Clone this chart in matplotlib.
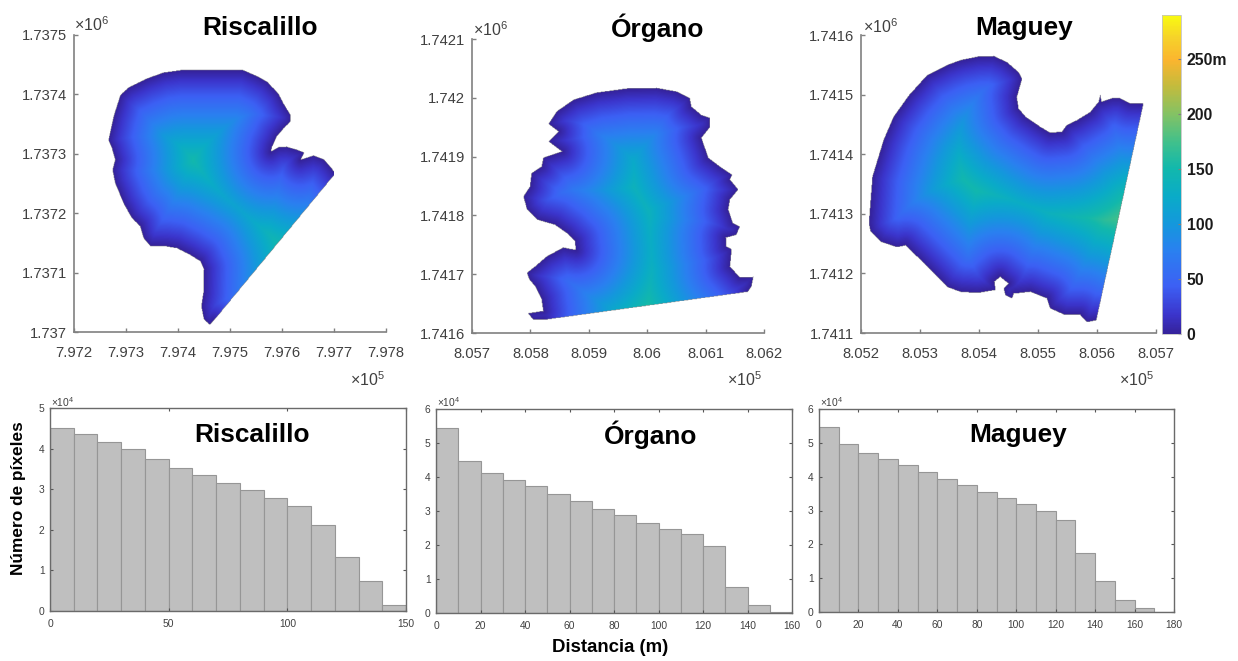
import numpy as np
from matplotlib import pyplot as plt
from matplotlib.colors import LinearSegmentedColormap
from matplotlib.path import Path

plt.rcParams['font.family'] = ['Liberation Sans', 'DejaVu Sans']
plt.rcParams['mathtext.fontset'] = 'custom'
plt.rcParams['mathtext.rm'] = 'Liberation Sans'
plt.rcParams['mathtext.it'] = 'Liberation Sans'

W, H = 1238, 661

# histogram heights, x 10^4 pixels, one per 10 m bin
ris_hist = [4.51, 4.36, 4.16, 3.98, 3.75, 3.52, 3.34, 3.16, 2.98, 2.78, 2.59, 2.11, 1.34, 0.73, 0.16]
org_hist = [5.43, 4.47, 4.12, 3.91, 3.74, 3.51, 3.30, 3.07, 2.87, 2.66, 2.48, 2.31, 1.98, 0.77, 0.24, 0.03]
mag_hist = [5.46, 4.96, 4.70, 4.52, 4.34, 4.15, 3.94, 3.74, 3.55, 3.36, 3.18, 2.98, 2.72, 1.73, 0.92, 0.35, 0.11, 0.01]

# outlines of the three areas, metres from the lower left corner of each map
ris_x = [204, 326, 352, 371, 393, 403, 417, 416, 403, 390, 381, 379, 393, 409, 429, 443, 436, 461, 480, 493, 503,
         268, 261, 250, 245, 249, 250, 243, 223, 198, 178, 146, 134, 127, 111, 95, 79, 74, 79, 73, 66, 76, 89, 105, 140, 172]
ris_y = [441, 441, 431, 422, 402, 385, 365, 354, 343, 329, 312, 304, 311, 312, 307, 302, 290, 297, 291, 279, 267,
         18, 12, 21, 43, 66, 105, 119, 130, 141, 144, 145, 158, 178, 192, 217, 251, 273, 290, 309, 323, 363, 399, 412, 427, 437]
org_x = [131, 145, 174, 213, 265, 316, 350, 373, 376, 393, 408, 408, 393, 399, 405, 425, 446, 442, 456, 442, 439, 447,
         459, 453, 435, 436, 445, 442, 459, 482, 479, 473, 122, 105, 96, 122, 119, 108, 98, 94, 108, 128, 156, 178, 176,
         162, 142, 111, 94, 88, 99, 102, 119, 122, 154, 131, 148]
org_y = [356, 377, 397, 409, 416, 417, 411, 400, 385, 371, 366, 351, 332, 315, 298, 283, 269, 261, 244, 227, 210, 187,
         181, 167, 162, 147, 142, 113, 94, 95, 79, 70, 22, 22, 33, 37, 57, 79, 91, 102, 113, 130, 145, 141, 156,
         170, 184, 193, 210, 232, 249, 272, 283, 298, 309, 326, 343]
mag_x = [197, 225, 247, 267, 273, 264, 267, 279, 304, 321, 341, 349, 366, 389, 403, 406, 408, 425, 440, 456, 479,
         399, 383, 372, 346, 321, 315, 287, 259, 256, 245, 242, 250, 236, 226, 228, 197, 168, 146, 123, 95, 75, 61, 33,
         16, 13, 16, 19, 38, 55, 81, 112, 146, 168]
mag_y = [464, 465, 455, 438, 427, 396, 377, 363, 346, 336, 338, 349, 357, 371, 388, 399, 388, 394, 394, 386, 385,
         21, 18, 30, 30, 41, 58, 69, 66, 58, 63, 74, 83, 94, 86, 72, 67, 69, 77, 100, 128, 147, 144, 153,
         170, 184, 223, 262, 324, 363, 399, 433, 450, 458]

# index of the straight cut side, distance is not measured from it
ris_cut, org_cut, mag_cut = 20, 31, 20

ris_xticks = ['7.972', '7.973', '7.974', '7.975', '7.976', '7.977', '7.978']
ris_yticks = ['1.737', '1.7371', '1.7372', '1.7373', '1.7374', '1.7375']
org_xticks = ['8.057', '8.058', '8.059', '8.06', '8.061', '8.062']
org_yticks = ['1.7416', '1.7417', '1.7418', '1.7419', '1.742', '1.7421']
mag_xticks = ['8.052', '8.053', '8.054', '8.055', '8.056', '8.057']
mag_yticks = ['1.7411', '1.7412', '1.7413', '1.7414', '1.7415', '1.7416']

cbar_ticks = [0, 50, 100, 150, 200, 250]
cbar_labels = ['0', '50', '100', '150', '200', '250m']

parula = LinearSegmentedColormap.from_list('parula', [
    (0.00, '#35229a'), (0.06, '#3b35cc'), (0.15, '#3c60f4'), (0.26, '#2a80f0'),
    (0.345, '#1498dc'), (0.43, '#0aabc8'), (0.52, '#12b8ac'), (0.60, '#3fc08c'),
    (0.69, '#84c264'), (0.78, '#c4bb3c'), (0.86, '#fbb52f'), (0.93, '#f6d22a'),
    (1.00, '#f9fb10')])
VMAX = 290

TXT = '#404040'
AX = '#808080'


def px_axes(left, right, top, bottom):
    return fig.add_axes([left / W, 1 - bottom / H, (right - left) / W, (bottom - top) / H])


def px_text(x, y, s, **kw):
    kw.setdefault('ha', 'center')
    kw.setdefault('va', 'center')
    fig.text(x / W, 1 - y / H, s, **kw)


def dist_map(xs, ys, cut):
    xs = np.array(xs, float)
    ys = np.array(ys, float)
    gx, gy = np.meshgrid(np.linspace(0, 500, 501), np.linspace(0, 500, 501))
    x2 = np.roll(xs, -1)
    y2 = np.roll(ys, -1)
    keep = np.arange(len(xs)) != cut
    d = np.full(gx.shape, np.inf)
    for a, b, c, e in zip(xs[keep], ys[keep], x2[keep], y2[keep]):
        dx, dy = c - a, e - b
        t = np.clip(((gx - a) * dx + (gy - b) * dy) / (dx * dx + dy * dy), 0, 1)
        d = np.minimum(d, np.hypot(gx - a - t * dx, gy - b - t * dy))
    inside = Path(np.column_stack([xs, ys])).contains_points(np.column_stack([gx.ravel(), gy.ravel()]))
    return np.ma.masked_where(~inside.reshape(gx.shape), d)


fig = plt.figure(figsize=(W / 100, H / 100), dpi=100, facecolor='white')

# --------------- maps --------------------
maps = [
    (ris_x, ris_y, ris_cut, 797200, 1737000, ris_xticks, ris_yticks, (74, 386, 35, 332), 600),
    (org_x, org_y, org_cut, 805700, 1741600, org_xticks, org_yticks, (472, 764, 39, 333), 500),
    (mag_x, mag_y, mag_cut, 805200, 1741100, mag_xticks, mag_yticks, (861, 1156, 35, 333), 500),
]
for xs, ys, cut, x0, y0, xt, yt, box, xspan in maps:
    ax = px_axes(*box)
    d = dist_map(xs, ys, cut)
    im = ax.imshow(d, origin='lower', extent=(x0, x0 + 500, y0, y0 + 500), cmap=parula,
                   vmin=0, vmax=VMAX, interpolation='bilinear')
    ax.set_aspect('auto')
    ax.set_xlim(x0, x0 + xspan)
    ax.set_ylim(y0, y0 + 500)
    ax.set_xticks(x0 + np.arange(len(xt)) * 100)
    ax.set_xticklabels(xt)
    ax.set_yticks(y0 + np.arange(len(yt)) * 100)
    ax.set_yticklabels(yt)
    ax.tick_params(direction='in', length=3, width=1, color=AX, labelcolor=TXT, labelsize=10.6)
    ax.tick_params(axis='x', pad=10)
    ax.tick_params(axis='y', pad=5)
    ax.spines['top'].set_visible(False)
    ax.spines['right'].set_visible(False)
    ax.spines['left'].set_color(AX)
    ax.spines['bottom'].set_color(AX)
    ax.spines['left'].set_linewidth(1.2)
    ax.spines['bottom'].set_linewidth(1.2)

px_text(92, 25, r'$\times10^{6}$', fontsize=11.5, color=TXT)
px_text(491, 30, r'$\times10^{6}$', fontsize=11.5, color=TXT)
px_text(881, 27, r'$\times10^{6}$', fontsize=11.5, color=TXT)
px_text(367, 380, r'$\times10^{5}$', fontsize=11.5, color=TXT)
px_text(744, 380, r'$\times10^{5}$', fontsize=11.5, color=TXT)
px_text(1136, 380, r'$\times10^{5}$', fontsize=11.5, color=TXT)

px_text(260, 28, 'Riscalillo', fontsize=18.9, fontweight='bold', color='black')
px_text(658, 28, 'Órgano', fontsize=18.9, fontweight='bold', color='black')
px_text(1024, 28, 'Maguey', fontsize=18.9, fontweight='bold', color='black')

# colorbar
cax = px_axes(1162, 1181, 15, 334)
cb = fig.colorbar(im, cax=cax)
cb.set_ticks(cbar_ticks)
cb.set_ticklabels(cbar_labels)
cb.ax.tick_params(direction='in', length=2, width=0.8, color=AX, labelsize=11.3, pad=4)
for lab in cb.ax.get_yticklabels():
    lab.set_fontweight('bold')
    lab.set_color('#1a1a1a')
cb.outline.set_edgecolor('#c4c4c4')
cb.outline.set_linewidth(0.6)

# --------------- histograms --------------------
hists = [
    (ris_hist, (50, 406, 408, 611), 150, 5, 50, 51),
    (org_hist, (436, 792, 409, 613), 160, 6, 20, 437),
    (mag_hist, (819, 1174, 409, 612), 180, 6, 20, 820),
]
for vals, box, xmax, ymax, step, mult_x in hists:
    ax = px_axes(*box)
    edges = np.arange(len(vals)) * 10
    ax.bar(edges, vals, width=10, align='edge', facecolor='#bfbfbf', edgecolor='#969696', linewidth=0.8)
    ax.set_xlim(0, xmax)
    ax.set_ylim(0, ymax)
    ax.set_xticks(np.arange(0, xmax + 1, step))
    ax.set_yticks(np.arange(0, ymax + 1))
    ax.tick_params(direction='in', length=2.5, width=0.8, top=True, right=True, color='#555555',
                   labelcolor=TXT, labelsize=7.4)
    ax.tick_params(axis='x', pad=6)
    ax.tick_params(axis='y', pad=4)
    for side in ax.spines.values():
        side.set_color('#6a6a6a')
        side.set_linewidth(1)
    px_text(mult_x, 402, r'$\times10^{4}$', fontsize=7.4, color=TXT, ha='left')

px_text(252, 435, 'Riscalillo', fontsize=18.9, fontweight='bold', color='black')
px_text(651, 435, 'Órgano', fontsize=18.9, fontweight='bold', color='black')
px_text(1018, 435, 'Maguey', fontsize=18.9, fontweight='bold', color='black')

px_text(19, 498, 'Número de píxeles', fontsize=12.4, fontweight='bold', rotation=90, color='black')
px_text(610, 647, 'Distancia (m)', fontsize=13.4, fontweight='bold', color='black')

fig.savefig('out.png', dpi=100)
